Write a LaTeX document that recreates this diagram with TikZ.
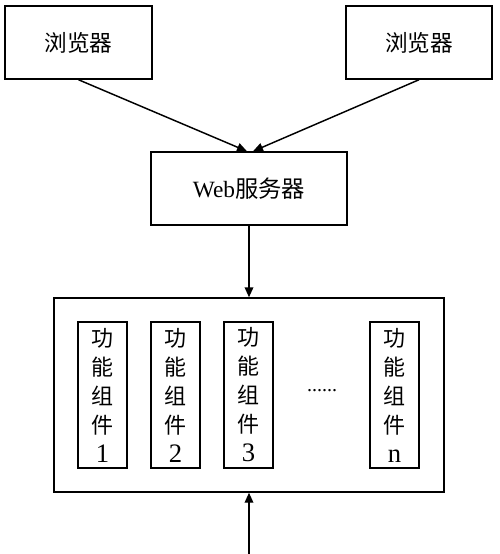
\documentclass[tikz,border=0pt]{standalone}
\usepackage{fontspec}
\setmainfont{Liberation Serif}
\newfontfamily\cjk{Noto Sans CJK SC}
\usetikzlibrary{calc}
\usetikzlibrary{arrows.meta}
\def\pxu{0.75pt}
\newcommand\compnum[1]{{\fontsize{20}{21.75}\selectfont #1}}

\begin{document}
\begin{tikzpicture}[x=0.75pt,y=-0.75pt,
  box/.style={draw,black,line width=1.1pt,inner sep=0pt},
  comp/.style={box,minimum width={49*\pxu},minimum height={146*\pxu},align=center,
    font=\fontsize{16.5}{21.75}\selectfont},
  arr/.style={black,line width=1.1pt,-{Triangle[length=7.5pt,width=6.5pt]}}]

\useasboundingbox (0,0) rectangle (500,554);

\node[box,minimum width={147*\pxu},minimum height={73*\pxu},font=\fontsize{17}{20}\cjk] (brL) at (78.5,42.5) {浏览器};
\node[box,minimum width={146*\pxu},minimum height={73*\pxu},font=\fontsize{17}{20}\cjk] (brR) at (419,42.5) {浏览器};
\node[box,minimum width={196*\pxu},minimum height={73*\pxu},font=\fontsize{17.5}{20}\selectfont] (web) at (249,188.5) {Web{\cjk 服务器}};
\node[box,minimum width={390*\pxu},minimum height={194*\pxu}] (host) at (249,395) {};

\node[comp] (c1) at (102.5,395) {\cjk 功\\\cjk 能\\\cjk 组\\\cjk 件\\\compnum{1}};
\node[comp] (c2) at (175.5,395) {\cjk 功\\\cjk 能\\\cjk 组\\\cjk 件\\\compnum{2}};
\node[comp] (c3) at (248.5,395) {\cjk 功\\\cjk 能\\\cjk 组\\\cjk 件\\\compnum{3}};
\node[comp] (cn) at (394.5,395) {\cjk 功\\\cjk 能\\\cjk 组\\\cjk 件\\\compnum{n}};
\node[font=\fontsize{15}{18}\selectfont] (dots) at (322,391) {......};

\coordinate (in) at (249,554);

\draw[arr] (brL.south) -- ($(web.north)+(-2,0)$);
\draw[arr] (brR.south) -- ($(web.north)+(4,0)$);
\draw[arr] (web.south) -- (host.north);
\draw[arr] (in) -- (host.south);

\end{tikzpicture}
\end{document}
